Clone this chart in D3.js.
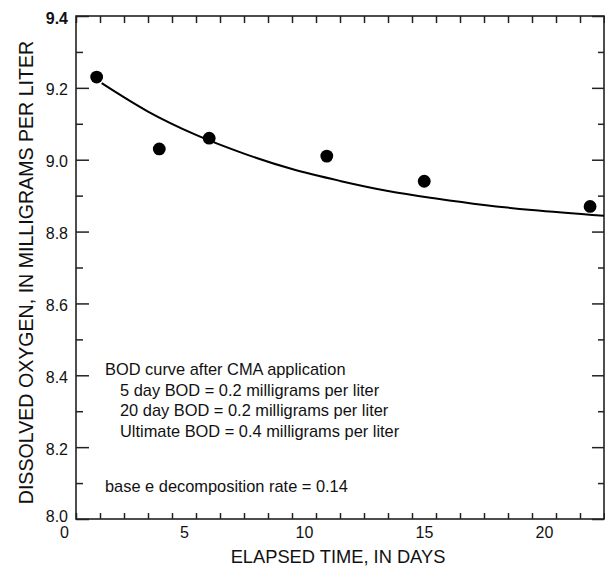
<!DOCTYPE html>
<html>
<head>
    <title>BOD curve</title>
    <script src="https://d3js.org/d3.v7.min.js"></script>
    <style>
        body { margin: 0; background: #fff; }
        svg { font-family: "Liberation Sans", Arial, Helvetica, sans-serif; }
        .axis path { display: none; }
        .axis line { stroke: #222; stroke-width: 1.5px; }
        .axis text { font-size: 16px; fill: #111; }
    </style>
</head>
<body>
    <div id="chart"></div>

    <script>
        // measured points (days, mg/L)
        const days = [0.86, 3.47, 5.55, 10.45, 14.51, 21.42];
        const dissolvedO2 = [9.23, 9.03, 9.06, 9.01, 8.94, 8.87];

        // fitted BOD curve
        const curveDays = [1.07, 3, 5, 7, 9, 11, 13, 15, 17, 19, 22];
        const curveO2 = [9.213, 9.134, 9.069, 9.017, 8.974, 8.941, 8.913, 8.892, 8.874, 8.860, 8.844];

        const xTicks = d3.range(0, 23);
        const xLabels = [0, 5, 10, 15, 20];
        const yMajor = [8.0, 8.2, 8.4, 8.6, 8.8, 9.0, 9.2, 9.4];
        const yMinor = [8.1, 8.3, 8.5, 8.7, 8.9, 9.1, 9.3];

        const notes = [
            "BOD curve after CMA application",
            "5 day BOD = 0.2 milligrams per liter",
            "20 day BOD = 0.2 milligrams per liter",
            "Ultimate BOD = 0.4 milligrams per liter",
            "",
            "",
            "base e decomposition rate = 0.14"
        ];

        const width = 605, height = 568;
        const margin = { top: 16, right: 1, bottom: 49, left: 76 };

        const svg = d3.select("#chart").append("svg")
            .attr("width", width)
            .attr("height", height);

        const x = d3.scaleLinear().domain([0, 22]).range([margin.left, width - margin.right]);
        const y = d3.scaleLinear().domain([8.0, 9.4]).range([height - margin.bottom, margin.top]);

        // ticks, all pointing inward
        svg.append("g").attr("class", "axis")
            .attr("transform", `translate(0,${y(8.0)})`)
            .call(d3.axisBottom(x).tickValues(xTicks).tickSize(-6).tickPadding(7.6)
                .tickFormat(d => xLabels.includes(d) ? d : ""))
            .selectAll("text").attr("dx", -12);

        svg.append("g").attr("class", "axis")
            .attr("transform", `translate(0,${y(9.4)})`)
            .call(d3.axisTop(x).tickValues(xTicks).tickSize(-7).tickFormat(""));

        const yAxis = svg.append("g").attr("class", "axis")
            .attr("transform", `translate(${x(0)},0)`)
            .call(d3.axisLeft(y).tickValues(yMajor).tickSize(-13).tickPadding(8).tickFormat(d3.format(".1f")));
        yAxis.selectAll("text")
            .attr("dy", d => d === 8.0 ? "0.17em" : "0.44em")
            .style("font-weight", d => d === 9.4 ? "bold" : null);

        svg.append("g").attr("class", "axis")
            .attr("transform", `translate(${x(0)},0)`)
            .call(d3.axisLeft(y).tickValues(yMinor).tickSize(-7).tickFormat(""));

        svg.append("g").attr("class", "axis")
            .attr("transform", `translate(${x(22)},0)`)
            .call(d3.axisRight(y).tickValues(yMajor).tickSize(-12).tickFormat(""));

        svg.append("g").attr("class", "axis")
            .attr("transform", `translate(${x(22)},0)`)
            .call(d3.axisRight(y).tickValues(yMinor).tickSize(-6).tickFormat(""));

        // frame
        svg.append("rect")
            .attr("x", x(0)).attr("y", y(9.4))
            .attr("width", x(22) - x(0)).attr("height", y(8.0) - y(9.4))
            .attr("fill", "none").attr("stroke", "#222").attr("stroke-width", 1.6);

        // fitted curve
        const line = d3.line()
            .x((d, i) => x(curveDays[i]))
            .y(d => y(d))
            .curve(d3.curveMonotoneX);

        svg.append("path")
            .datum(curveO2)
            .attr("d", line)
            .attr("fill", "none")
            .attr("stroke", "#000")
            .attr("stroke-width", 2);

        // points
        svg.selectAll(".pt")
            .data(dissolvedO2)
            .enter().append("circle")
            .attr("class", "pt")
            .attr("cx", (d, i) => x(days[i]))
            .attr("cy", d => y(d))
            .attr("r", 6.4)
            .attr("fill", "#000");

        // annotation
        svg.append("g")
            .selectAll("text")
            .data(notes)
            .enter().append("text")
            .attr("x", (d, i) => (i >= 1 && i <= 3) ? 120 : 105)
            .attr("y", (d, i) => 375 + i * 20.7 - (i === 6 ? 7.5 : 0))
            .attr("font-size", 16.4)
            .attr("fill", "#111")
            .text(d => d);

        // axis titles
        svg.append("text")
            .attr("x", (x(0) + x(22)) / 2 - 2)
            .attr("y", 563)
            .attr("text-anchor", "middle")
            .attr("font-size", 18.3)
            .attr("fill", "#111")
            .text("ELAPSED TIME, IN DAYS");

        svg.append("text")
            .attr("transform", `translate(33,${(y(8.0) + y(9.4)) / 2 + 5}) rotate(-90)`)
            .attr("text-anchor", "middle")
            .attr("font-size", 19.6)
            .attr("fill", "#111")
            .text("DISSOLVED OXYGEN, IN MILLIGRAMS PER LITER");
    </script>
</body>
</html>
